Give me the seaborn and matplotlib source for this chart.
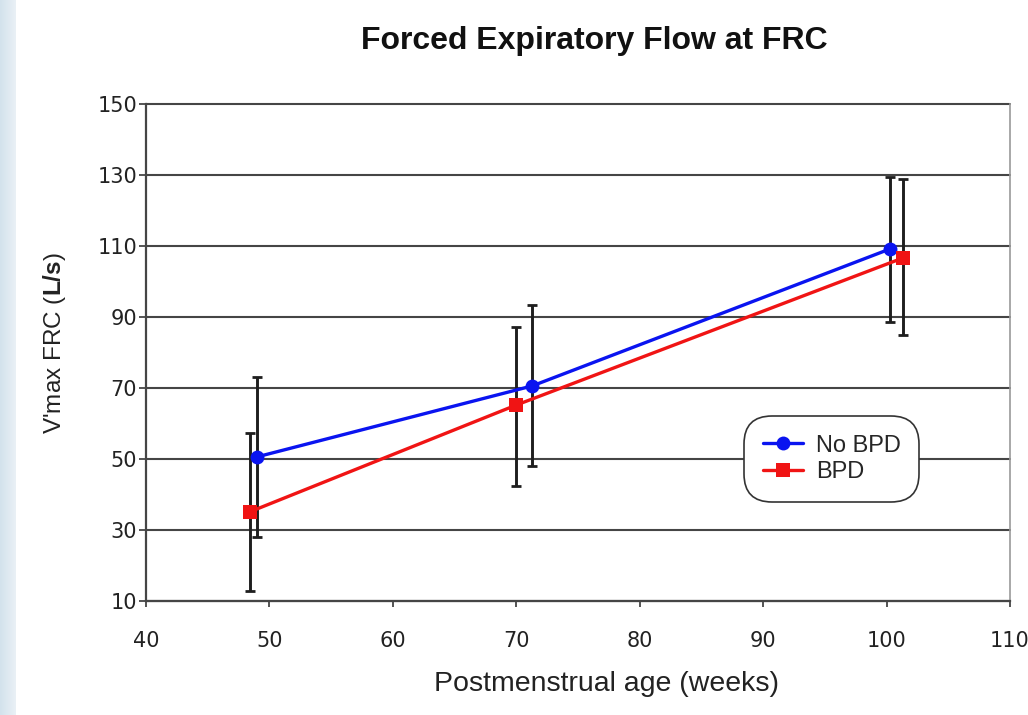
import numpy as np
import pandas as pd
import matplotlib
matplotlib.use("Agg")
import matplotlib.pyplot as plt
import seaborn as sns

# Group means and standard deviations of V'max FRC by postmenstrual age
groups = ["No BPD", "BPD"]
no_bpd_age = [49.0, 71.3, 100.3]
no_bpd_vmax = [50.6, 70.6, 109.2]
no_bpd_lo = [28.0, 48.0, 88.6]
no_bpd_hi = [73.1, 93.4, 129.4]

bpd_age = [48.4, 70.0, 101.3]
bpd_vmax = [35.1, 65.2, 106.6]
bpd_lo = [12.8, 42.4, 84.9]
bpd_hi = [57.3, 87.2, 128.9]

x_ticks = [40, 50, 60, 70, 80, 90, 100, 110]
y_ticks = [10, 30, 50, 70, 90, 110, 130, 150]

df = pd.DataFrame({
    "age": no_bpd_age + bpd_age,
    "vmax": no_bpd_vmax + bpd_vmax,
    "group": [groups[0]] * 3 + [groups[1]] * 3,
})

sns.set_style("ticks")
plt.rcParams["font.family"] = ["Liberation Sans", "DejaVu Sans"]
plt.rcParams["mathtext.fontset"] = "custom"
plt.rcParams["mathtext.rm"] = "Liberation Sans"
plt.rcParams["mathtext.bf"] = "Liberation Sans:bold"

fig = plt.figure(figsize=(10.28, 7.15), dpi=100)
fig.patch.set_facecolor("white")

# pale slide-background strip along the left edge
strip = fig.add_axes([0, 0, 16 / 1028, 1])
grad = np.linspace(0, 1, 64)[None, :] * np.ones((64, 1))
strip.imshow(grad, aspect="auto", cmap=matplotlib.colors.LinearSegmentedColormap.from_list(
    "edge", ["#d3e2ec", "#eaf1f6"]), extent=[0, 1, 0, 1])
strip.set_axis_off()

ax = fig.add_axes([146 / 1028, 1 - 601 / 715, 864 / 1028, 497 / 715])

palette = {"No BPD": "#0a14f0", "BPD": "#f01414"}
grid_c = "#454545"
text_c = "#222222"

for y in y_ticks:
    ax.axhline(y, color=grid_c, lw=1.5, zorder=0.5, clip_on=False)

err_kw = dict(fmt="none", ecolor="#1e1e1e", elinewidth=2.1, capsize=3.5, capthick=2.0, zorder=2)
ax.errorbar(no_bpd_age, no_bpd_vmax,
            yerr=[np.subtract(no_bpd_vmax, no_bpd_lo), np.subtract(no_bpd_hi, no_bpd_vmax)], **err_kw)
ax.errorbar(bpd_age, bpd_vmax,
            yerr=[np.subtract(bpd_vmax, bpd_lo), np.subtract(bpd_hi, bpd_vmax)], **err_kw)

sns.lineplot(data=df, x="age", y="vmax", hue="group", style="group",
             hue_order=groups, style_order=groups, palette=palette,
             markers={"No BPD": "o", "BPD": "s"}, dashes=False,
             markersize=10, markeredgewidth=0, linewidth=2.4,
             sort=False, estimator=None, ax=ax, zorder=3)

ax.set_xlim(40, 110)
ax.set_ylim(10, 150)
ax.set_xticks(x_ticks)
ax.set_yticks(y_ticks)
tick_font = {"family": "DejaVu Sans", "size": 15}
ax.set_xticklabels([str(v) for v in x_ticks], fontdict=tick_font)
ax.set_yticklabels([str(v) for v in y_ticks], fontdict=tick_font)
ax.tick_params(axis="y", length=5, width=1.3, color=grid_c, pad=1.5, labelcolor=text_c)
ax.tick_params(axis="x", length=4, width=1.3, color=grid_c, pad=17.5, labelcolor=text_c)

for side in ["left", "bottom"]:
    ax.spines[side].set_color(grid_c)
    ax.spines[side].set_linewidth(1.6)
ax.spines["top"].set_visible(False)
ax.spines["right"].set_color("#9a9a9a")
ax.spines["right"].set_linewidth(1.2)

ax.set_xlabel("Postmenstrual age (weeks)", fontsize=20.5, color=text_c)
ax.xaxis.set_label_coords((607 - 146) / 864, (601 - 671) / 497)
ax.set_ylabel(r"V'max FRC ($\mathbf{L/s}$)", fontsize=17.5, color=text_c)
ax.yaxis.set_label_coords((68 - 146) / 864, (601 - 343) / 497)

fig.text(594 / 1028, 1 - 41 / 715, "Forced Expiratory Flow at FRC",
         fontsize=23, fontweight="bold", ha="center", va="center", color="#111111")

handles, labels = ax.get_legend_handles_labels()
leg = ax.legend(handles, labels, loc="upper left",
                bbox_to_anchor=((746 - 146) / 864, (601 - 418) / 497),
                prop={"size": 17}, frameon=True, fancybox=True, framealpha=1,
                edgecolor="#333333", handlelength=1.7, borderpad=0.7,
                labelspacing=0.2, handletextpad=0.55, borderaxespad=0)
leg.get_frame().set_linewidth(1.2)
leg.get_frame().set_boxstyle("round,pad=0.1,rounding_size=1.2")
leg.set_zorder(5)

fig.savefig("out.png", dpi=100)
